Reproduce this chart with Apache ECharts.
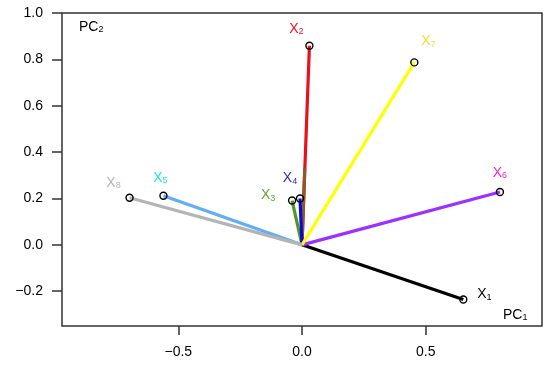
<!DOCTYPE html>
<html><head><meta charset="utf-8">
<script src="https://cdn.jsdelivr.net/npm/echarts@6/dist/echarts.min.js"></script>
<style>html,body{margin:0;padding:0;background:#fff}#c{width:550px;height:365px}</style>
</head><body><div id="c"></div>
<script>
// Loadings (PC1, PC2)
const names = ['1','2','9','3','4','5','6','7','8'];
const pc1 = [0.652, 0.030, 0.011, -0.040, -0.008, -0.560, 0.800, 0.454, -0.697];
const pc2 = [-0.236, 0.859, 0.330, 0.191, 0.200, 0.212, 0.228, 0.787, 0.203];
const labelled = [true, true, false, true, true, true, true, true, true];
const xTicks = [-0.5, 0.0, 0.5];
const yTicks = [-0.2, 0.0, 0.2, 0.4, 0.6, 0.8, 1.0];

// styles
const lineColors = ['#000000','#e8101a','#8b5a2b','#4e9a1e','#0a0ae0','#62aef5','#9b30ff','#ffff00','#b4b4b4'];
const labelColors = ['#000000','#f0141e','#8b5a2b','#5aa82a','#2a2acc','#22e4e8','#f022dc','#f2e030','#b4b4b4'];
const labelOffsets = [[21,-5],[-13,-17],[0,0],[-24,-5],[-10,-20],[-3,-18],[0,-19],[14,-21],[-16,-15]];

const font = 'Liberation Sans, Arial, Helvetica, sans-serif';
function fmt(v){ const s = Math.abs(v).toFixed(1); return v < 0 ? '\u2212' + s : s; }

const series = names.map((n, i) => ({
  type: 'line',
  z: 2 + i,
  animation: false,
  silent: true,
  lineStyle: { color: lineColors[i], width: 3.2 },
  data: [
    { value: [0, 0], symbol: 'none' },
    { value: [pc1[i], pc2[i]],
      symbol: labelled[i] ? 'circle' : 'none',
      symbolSize: 7,
      itemStyle: { color: 'rgba(0,0,0,0)', borderColor: '#000', borderWidth: 1.4 },
      label: labelled[i] ? {
        show: true, position: 'inside', offset: labelOffsets[i],
        formatter: '{x|X}{s|' + n + '}',
        rich: {
          x: { fontFamily: font, fontSize: 14, color: labelColors[i] },
          s: { fontFamily: font, fontSize: 9, color: labelColors[i], padding: [6,0,0,0] }
        }
      } : { show: false }
    }
  ]
}));

const chart = echarts.init(document.getElementById('c'), null, { renderer: 'canvas' });
chart.setOption({
  animation: false,
  backgroundColor: '#fff',
  grid: { left: 62, right: 8, top: 13, bottom: 39, show: true, borderColor: '#333', borderWidth: 1.5, backgroundColor: 'transparent' },
  xAxis: {
    type: 'value', min: -0.97, max: 0.97,
    axisLine: { show: false, onZero: false },
    splitLine: { show: false },
    axisTick: { show: true, inside: false, length: 9, customValues: xTicks, lineStyle: { color: '#333', width: 1.5 } },
    axisLabel: { customValues: xTicks, formatter: fmt, fontFamily: font, fontSize: 14, color: '#000', margin: 19 }
  },
  yAxis: {
    type: 'value', min: -0.35, max: 1.0,
    axisLine: { show: false, onZero: false },
    splitLine: { show: false },
    axisTick: { show: true, inside: false, length: 10, customValues: yTicks, lineStyle: { color: '#333', width: 1.5 } },
    axisLabel: { customValues: yTicks, formatter: fmt, fontFamily: font, fontSize: 14, color: '#000', margin: 19 }
  },
  graphic: [
    { type: 'text', left: 79, top: 20, style: { text: '{a|PC}{b|2}', rich: { a: { fontFamily: font, fontSize: 14, fill: '#000' }, b: { fontFamily: font, fontSize: 9, fill: '#000', padding: [6,0,0,0] } } } },
    { type: 'text', left: 503, top: 308, style: { text: '{a|PC}{b|1}', rich: { a: { fontFamily: font, fontSize: 14, fill: '#000' }, b: { fontFamily: font, fontSize: 9, fill: '#000', padding: [6,0,0,0] } } } }
  ],
  series: series
});
</script></body></html>
